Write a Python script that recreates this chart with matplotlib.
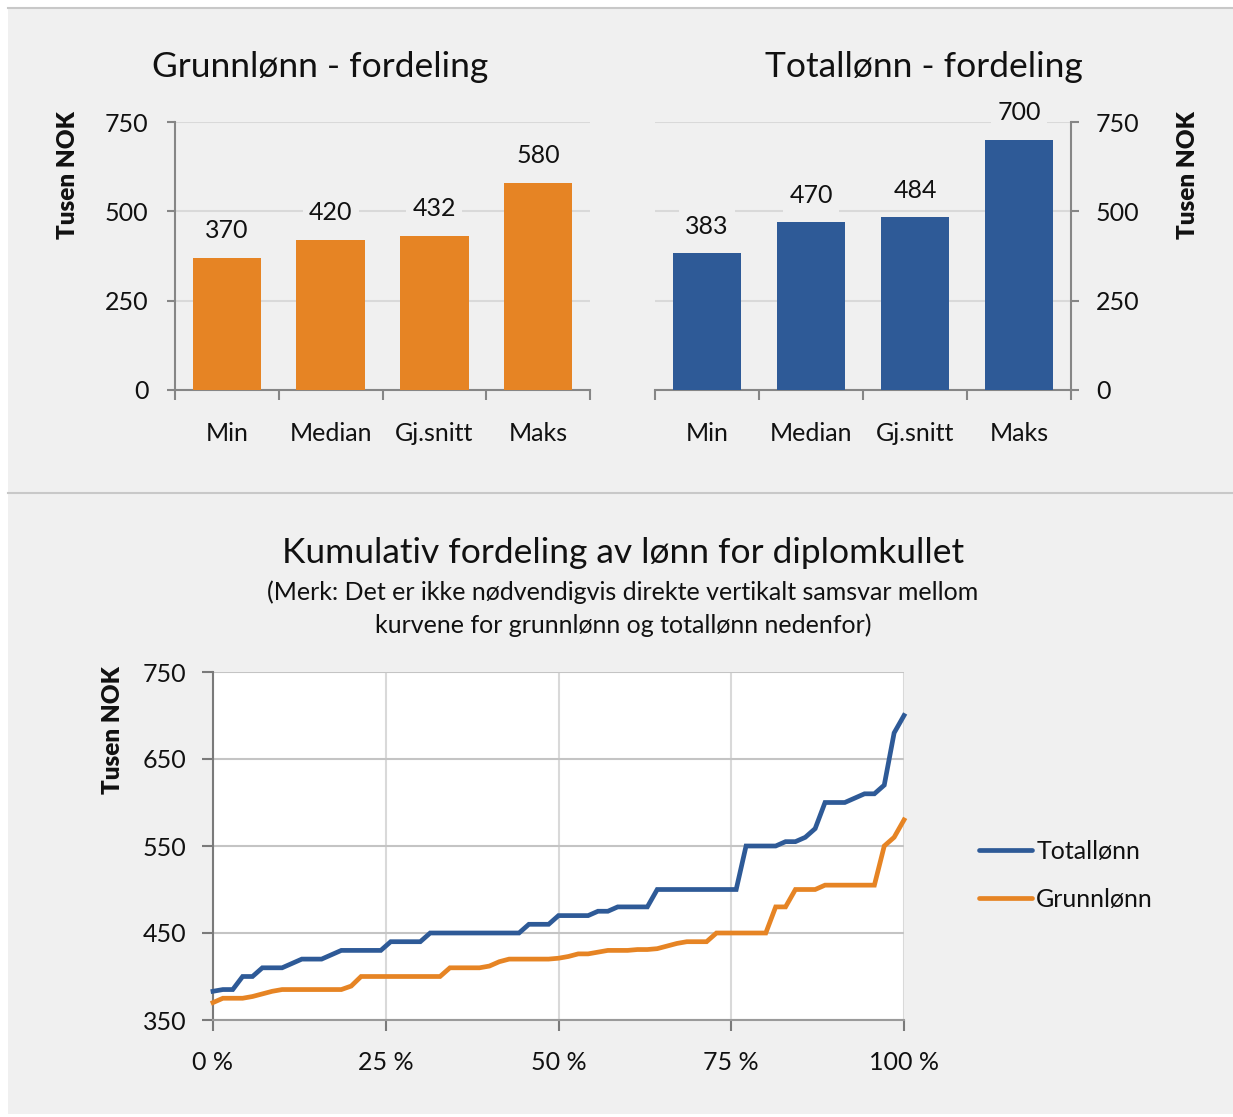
import matplotlib
matplotlib.use("Agg")
import matplotlib.pyplot as plt
from matplotlib.lines import Line2D
import numpy as np

plt.rcParams['font.family'] = ['Lato', 'DejaVu Sans']

# ---------------- data ----------------
categories = ["Min", "Median", "Gj.snitt", "Maks"]
grunnlonn_stats = [370, 420, 432, 580]
totallonn_stats = [383, 470, 484, 700]

totallonn_cum = [383, 385, 385, 400, 400, 410, 410, 410, 415, 420,
                 420, 420, 425, 430, 430, 430, 430, 430, 440, 440,
                 440, 440, 450, 450, 450, 450, 450, 450, 450, 450,
                 450, 450, 460, 460, 460, 470, 470, 470, 470, 475,
                 475, 480, 480, 480, 480, 500, 500, 500, 500, 500,
                 500, 500, 500, 500, 550, 550, 550, 550, 555, 555,
                 560, 570, 600, 600, 600, 605, 610, 610, 620, 680,
                 700]
grunnlonn_cum = [370, 375, 375, 375, 377, 380, 383, 385, 385, 385,
                 385, 385, 385, 385, 389, 400, 400, 400, 400, 400,
                 400, 400, 400, 400, 410, 410, 410, 410, 412, 417,
                 420, 420, 420, 420, 420, 421, 423, 426, 426, 428,
                 430, 430, 430, 431, 431, 432, 435, 438, 440, 440,
                 440, 450, 450, 450, 450, 450, 450, 480, 480, 500,
                 500, 500, 505, 505, 505, 505, 505, 505, 550, 560,
                 580]

bar_yticks = [0, 250, 500, 750]
line_yticks = [350, 450, 550, 650, 750]
line_xticks = [0, 25, 50, 75, 100]
line_xticklabels = ["0 %", "25 %", "50 %", "75 %", "100 %"]

# ---------------- style ----------------
W, H = 1233, 1117
BG = "#f0f0f0"
ORANGE = "#E68424"
BLUE = "#2E5A97"
GRID = "#d9d9d9"
SPINE = "#868686"
TXT = "#111111"

fig = plt.figure(figsize=(W / 100, H / 100), dpi=100, facecolor="white")


def rect(x0, y0, x1, y1):
    return [x0 / W, 1 - y1 / H, (x1 - x0) / W, (y1 - y0) / H]


# background panel
bgax = fig.add_axes([0, 0, 1, 1], zorder=-10)
bgax.set_xlim(0, W)
bgax.set_ylim(H, 0)
bgax.axis("off")
bgax.add_patch(plt.Rectangle((8, 8), W - 8, 1106, facecolor=BG, edgecolor="none"))
bgax.plot([8, W], [7.5, 7.5], color="#c8c8c8", lw=1.5)
bgax.plot([8, W], [493, 493], color="#c8c8c8", lw=1.5)

TICK_FS = 18


def bar_panel(ax, values, color, side):
    x = np.arange(len(categories))
    ax.set_facecolor(BG)
    ax.bar(x, values, width=0.66, color=color, zorder=3)
    ax.set_xlim(-0.5, len(categories) - 0.5)
    ax.set_ylim(0, 750)
    ax.set_yticks(bar_yticks)
    ax.yaxis.grid(True, color=GRID, lw=1.5, zorder=0)
    ax.set_axisbelow(True)
    for s in ["top", "left", "right", "bottom"]:
        ax.spines[s].set_visible(False)
    ax.spines["bottom"].set_visible(True)
    ax.spines["bottom"].set_color(SPINE)
    ax.spines["bottom"].set_linewidth(1.5)
    ax.spines[side].set_visible(True)
    ax.spines[side].set_color(SPINE)
    ax.spines[side].set_linewidth(1.5)
    if side == "right":
        ax.yaxis.tick_right()
        ax.tick_params(axis="y", which="major", right=True, left=False,
                       length=6, width=1.5, color=SPINE, pad=12,
                       labelsize=TICK_FS, labelcolor=TXT)
    else:
        ax.tick_params(axis="y", which="major", length=6, width=1.5,
                       color=SPINE, pad=13, labelsize=TICK_FS, labelcolor=TXT)
    ax.set_xticks(x)
    ax.set_xticklabels(categories)
    ax.set_xticks(np.arange(-0.5, len(categories)), minor=True)
    ax.tick_params(axis="x", which="major", length=0, pad=23,
                   labelsize=TICK_FS, labelcolor=TXT)
    ax.tick_params(axis="x", which="minor", length=7, width=1.5, color=SPINE)
    for xi, v in zip(x, values):
        ax.annotate(f"{v}", (xi, v), xytext=(0, 27), textcoords="offset pixels",
                    ha="center", va="center", fontsize=TICK_FS, color=TXT,
                    zorder=5,
                    bbox=dict(boxstyle="square,pad=0.25", facecolor=BG,
                              edgecolor="none"))


ax1 = fig.add_axes(rect(175, 122, 590, 390))
bar_panel(ax1, grunnlonn_stats, ORANGE, "left")
ax2 = fig.add_axes(rect(655, 122, 1071, 390))
bar_panel(ax2, totallonn_stats, BLUE, "right")

fig.text(320 / W, 1 - 67 / H, "Grunnlønn - fordeling", ha="center",
         va="center", fontsize=25.5, color=TXT)
fig.text(924 / W, 1 - 67 / H, "Totallønn - fordeling", ha="center",
         va="center", fontsize=25.5, color=TXT)
fig.text(68 / W, 1 - 175 / H, "Tusen NOK", rotation=90, ha="center",
         va="center", fontsize=17.5, fontweight="heavy", color=TXT)
fig.text(1188 / W, 1 - 175 / H, "Tusen NOK", rotation=90, ha="center",
         va="center", fontsize=17.5, fontweight="heavy", color=TXT)

# ---------------- cumulative line chart ----------------
ax3 = fig.add_axes(rect(213, 672, 904, 1020))
ax3.set_facecolor("white")
n = len(totallonn_cum)
pct = np.arange(n) / (n - 1) * 100
ax3.plot(pct, grunnlonn_cum, color=ORANGE, lw=3.4, solid_joinstyle="miter",
         label="Grunnlønn", zorder=3, clip_on=False)
ax3.plot(pct, totallonn_cum, color=BLUE, lw=3.4, solid_joinstyle="miter",
         label="Totallønn", zorder=3, clip_on=False)
ax3.set_xlim(0, 100)
ax3.set_ylim(350, 750)
ax3.set_yticks(line_yticks)
ax3.set_xticks(line_xticks)
ax3.set_xticklabels(line_xticklabels)
ax3.yaxis.grid(True, color="#c4c4c4", lw=1.5, zorder=0)
ax3.xaxis.grid(True, color=GRID, lw=1.5, zorder=0)
ax3.set_axisbelow(True)
for s in ["top", "right"]:
    ax3.spines[s].set_visible(False)
ax3.spines["left"].set_color("#7a7a7a")
ax3.spines["left"].set_linewidth(1.5)
ax3.spines["bottom"].set_color("#9a9a9a")
ax3.spines["bottom"].set_linewidth(1.5)
ax3.tick_params(axis="y", length=8, width=1.5, color="#7a7a7a", pad=11,
                labelsize=TICK_FS, labelcolor=TXT)
ax3.tick_params(axis="x", length=8, width=1.5, color="#7a7a7a", pad=14,
                labelsize=TICK_FS, labelcolor=TXT)

fig.text(113 / W, 1 - 730 / H, "Tusen NOK", rotation=90, ha="center",
         va="center", fontsize=17.5, fontweight="heavy", color=TXT)
fig.text(623 / W, 1 - 553 / H, "Kumulativ fordeling av lønn for diplomkullet",
         ha="center", va="center", fontsize=25.5, color=TXT)
fig.text(623 / W, 1 - 592 / H,
         "(Merk: Det er ikke nødvendigvis direkte vertikalt samsvar mellom",
         ha="center", va="center", fontsize=18, color=TXT)
fig.text(623 / W, 1 - 625 / H,
         "kurvene for grunnlønn og totallønn nedenfor)",
         ha="center", va="center", fontsize=18, color=TXT)

handles = [Line2D([], [], color=BLUE, lw=3.4, solid_capstyle="round"),
           Line2D([], [], color=ORANGE, lw=3.4, solid_capstyle="round")]
fig.legend(handles, ["Totallønn", "Grunnlønn"], loc="center left",
           bbox_to_anchor=(956 / W, 1 - 875 / H), frameon=False,
           fontsize=TICK_FS, handlelength=2.15, handletextpad=0.16,
           labelspacing=1.0, labelcolor=TXT)

fig.savefig("out.png", dpi=100, facecolor="white")
